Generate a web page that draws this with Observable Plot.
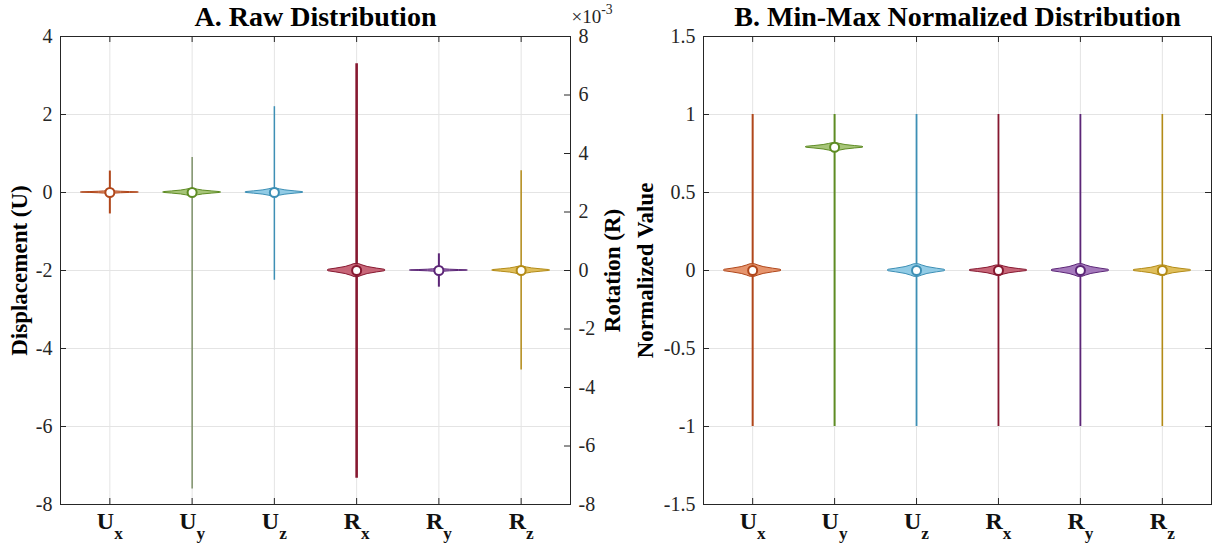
<!DOCTYPE html>
<html><head><meta charset="utf-8">
<script src="https://cdn.jsdelivr.net/npm/d3@7"></script>
<script src="https://cdn.jsdelivr.net/npm/@observablehq/plot@0.6"></script>
<style>
html,body{margin:0;padding:0;background:#fff;}
#wrap{position:relative;width:1213px;height:548px;overflow:hidden;font-family:"Liberation Serif",serif;}
#wrap svg{position:absolute;top:0;}
</style></head><body><div id="wrap"></div>
<script>
// ---------- data ----------
const categories = ["Ux","Uy","Uz","Rx","Ry","Rz"];
const labelBase = ["U","U","U","R","R","R"];
const labelSub  = ["x","y","z","x","y","z"];
const strokeColors = ["#B0471B","#5E8C24","#3D8FB5","#861830","#5C2677","#B38B17"];
const fillColors   = ["#E38A5E","#9DBF6A","#86C6E3","#C2566A","#9B6BB5","#DDB84A"];

// Panel A (raw). U in displacement units, R in units of 1e-3
const rawMedian = [0, 0, 0, 0, 0, 0];
const rawMin    = [-0.55, -7.6, -2.25, -7.1, -0.57, -3.4];
const rawMax    = [0.55, 0.9, 2.2, 7.07, 0.57, 3.41];
const rawSpread = [0.035, 0.09, 0.1, 0.22, 0.05, 0.13];   // vertical half-extent of violin body

// Panel B (min-max normalized)
const normMedian = [0, 0.79, 0, 0, 0, 0];
const normMin    = [-1, -1, -1, -1, -1, -1];
const normMax    = [1, 1, 1, 1, 1, 1];
const normSpread = [0.04, 0.026, 0.04, 0.032, 0.04, 0.032];

// violin outline profile (relative offset from median, relative half-width)
const profileT = [0, 0.12, 0.3, 0.55, 0.8, 1];
const profileW = [1, 0.97, 0.7, 0.38, 0.2, 0.08];
const violinHalfWidth = 0.352;

const catPos = [1, 2, 3, 4, 5, 6];
const uTicks = [-8, -6, -4, -2, 0, 2, 4];
const rTicks = [-8, -6, -4, -2, 0, 2, 4, 6, 8];
const nTicks = [-1.5, -1, -0.5, 0, 0.5, 1, 1.5];

// ---------- styles ----------
const rawWhiskerColors = ["#B0471B","#55703A","#3D8FB5","#861830","#5C2677","#B38B17"];
const rawWhiskerWidth  = [2, 1.1, 1.5, 2.6, 2, 1.5];
const normWhiskerWidth = [2, 2, 1.8, 1.8, 1.8, 1.6];
const FONT = "Liberation Serif";
const AXIS = "#262626";
const GRID = "#e4e4e4";
const TICKFS = 20, LABELFS = 23, TITLEFS = 28, CATFS = 24;

function violinPoints(idx, median, spread) {
  const ts = [
    ...profileT.map((t, k) => [-t, profileW[k]]).reverse(),
    ...profileT.slice(1).map((t, k) => [t, profileW[k + 1]])
  ];
  return ts.map(([t, w]) => ({
    y: median + t * spread,
    x1: catPos[idx] - w * violinHalfWidth,
    x2: catPos[idx] + w * violinHalfWidth
  }));
}
function violinMarks(idx, median, lo, hi, spread, lw, lc) {
  const row = [{x: catPos[idx], lo, hi, m: median}];
  return [
    Plot.ruleX(row, {x: "x", y1: "lo", y2: "hi", stroke: lc, strokeWidth: lw}),
    Plot.areaX(violinPoints(idx, median, spread), {y: "y", x1: "x1", x2: "x2", fill: fillColors[idx], fillOpacity: 0.9, stroke: strokeColors[idx], strokeWidth: 1}),
    Plot.dot(row, {x: "x", y: "m", r: 4.5, fill: "white", stroke: strokeColors[idx], strokeWidth: 2})
  ];
}
function richText(svg) {
  const s0 = d3.select(svg);
  s0.selectAll("g").attr("font-variant", null);
  s0.selectAll("text").style("font-family", "'Liberation Serif', serif").style("font-variant", "normal");
  s0.selectAll("text").each(function () {
    const s = this.textContent;
    const m = s.match(/^(.*?)([_^])(.*)$/);
    if (!m) return;
    const t = d3.select(this);
    t.text(null);
    t.append("tspan").text(m[1]);
    if (m[2] === "_") t.append("tspan").attr("font-size", "0.72em").attr("dy", "0.55em").text(m[3]);
    else t.append("tspan").attr("font-size", "0.72em").attr("dy", "-0.6em").text(m[3]);
  });
}

const H = 548, MT = 36, MB = 44;
const frameH = H - MT - MB;

// ---------- Panel A ----------
const WA = 628, MLA = 60, MRA = 58;
const frameWA = WA - MLA - MRA;
const baseA = {
  width: WA, height: H, marginLeft: MLA, marginRight: MRA, marginTop: MT, marginBottom: MB,
  style: {fontFamily: FONT, fontSize: TICKFS + "px", color: AXIS, background: "transparent", overflow: "visible"},
  x: {domain: [0.4, 6.6], axis: null}
};
const catLabelMark = () => Plot.text(catPos, {x: d => d, frameAnchor: "bottom", lineAnchor: "middle", dy: 17, text: d => labelBase[d - 1] + "_" + labelSub[d - 1], fontWeight: "bold", fontSize: CATFS, fill: "#111"});
const yLabel = (txt, anchor, dx) => Plot.text([txt], {text: d => d, frameAnchor: anchor, textAnchor: "middle", lineAnchor: "middle", rotate: -90, dx, fontSize: LABELFS, fontWeight: "bold", fill: "#000"});
const title = (txt) => Plot.text([txt], {text: d => d, frameAnchor: "top", textAnchor: "middle", lineAnchor: "middle", dy: -19, fontSize: TITLEFS, fontWeight: "bold", fill: "#000"});

const plotA = Plot.plot({
  ...baseA,
  y: {domain: [-8, 4]},
  marks: [
    Plot.gridX(catPos, {stroke: GRID, strokeOpacity: 1}),
    Plot.gridY(uTicks, {stroke: GRID, strokeOpacity: 1}),
    Plot.tickY(uTicks, {y: d => d, stroke: AXIS, insetRight: frameWA - 6}),
    Plot.tickX(catPos, {x: d => d, stroke: AXIS, insetTop: frameH - 6}),
    Plot.tickX(catPos, {x: d => d, stroke: AXIS, insetBottom: frameH - 6}),
    Plot.axisY(uTicks, {anchor: "left", tickSize: 0, tickPadding: 8, tickFormat: d => String(d), label: null, fontSize: TICKFS, fill: AXIS}),
    Plot.frame({stroke: AXIS}),
    ...[0, 1, 2].flatMap(i => violinMarks(i, rawMedian[i], rawMin[i], rawMax[i], rawSpread[i], rawWhiskerWidth[i], rawWhiskerColors[i])),
    catLabelMark(),
    title("A. Raw Distribution"),
    yLabel("Displacement (U)", "left", -41)
  ]
});

const plotA2 = Plot.plot({
  ...baseA,
  y: {domain: [-8, 8]},
  marks: [
    Plot.tickY(rTicks, {y: d => d, stroke: AXIS, insetLeft: frameWA - 6}),
    Plot.axisY(rTicks, {anchor: "right", tickSize: 0, tickPadding: 8, tickFormat: d => String(d), label: null, fontSize: TICKFS, fill: AXIS}),
    ...[3, 4, 5].flatMap(i => violinMarks(i, rawMedian[i], rawMin[i], rawMax[i], rawSpread[i], rawWhiskerWidth[i], rawWhiskerColors[i])),
    Plot.text(["×10^-3"], {text: d => d, frameAnchor: "top-right", textAnchor: "start", lineAnchor: "middle", dx: 1, dy: -20, fontSize: 19, fill: AXIS}),
    yLabel("Rotation (R)", "right", 42)
  ]
});

// ---------- Panel B ----------
const XB = 628, WB = 1213 - XB, MLB = 75, MRB = 2;
const frameWB = WB - MLB - MRB;
const plotB = Plot.plot({
  width: WB, height: H, marginLeft: MLB, marginRight: MRB, marginTop: MT, marginBottom: MB,
  style: {fontFamily: FONT, fontSize: TICKFS + "px", color: AXIS, background: "transparent", overflow: "visible"},
  x: {domain: [0.4, 6.6], axis: null},
  y: {domain: [-1.5, 1.5]},
  marks: [
    Plot.gridX(catPos, {stroke: GRID, strokeOpacity: 1}),
    Plot.gridY(nTicks, {stroke: GRID, strokeOpacity: 1}),
    Plot.tickY(nTicks, {y: d => d, stroke: AXIS, insetRight: frameWB - 6}),
    Plot.tickY(nTicks, {y: d => d, stroke: AXIS, insetLeft: frameWB - 6}),
    Plot.tickX(catPos, {x: d => d, stroke: AXIS, insetTop: frameH - 6}),
    Plot.tickX(catPos, {x: d => d, stroke: AXIS, insetBottom: frameH - 6}),
    Plot.axisY(nTicks, {anchor: "left", tickSize: 0, tickPadding: 8, tickFormat: d => String(d), label: null, fontSize: TICKFS, fill: AXIS}),
    Plot.frame({stroke: AXIS}),
    ...[0, 1, 2, 3, 4, 5].flatMap(i => violinMarks(i, normMedian[i], normMin[i], normMax[i], normSpread[i], normWhiskerWidth[i], strokeColors[i])),
    catLabelMark(),
    title("B. Min-Max Normalized Distribution"),
    yLabel("Normalized Value", "left", -58)
  ]
});

const wrap = document.getElementById("wrap");
[plotA, plotA2, plotB].forEach(richText);
plotA.style.left = "0px";
plotA2.style.left = "0px";
plotB.style.left = XB + "px";
wrap.appendChild(plotA);
wrap.appendChild(plotA2);
wrap.appendChild(plotB);
</script></body></html>
